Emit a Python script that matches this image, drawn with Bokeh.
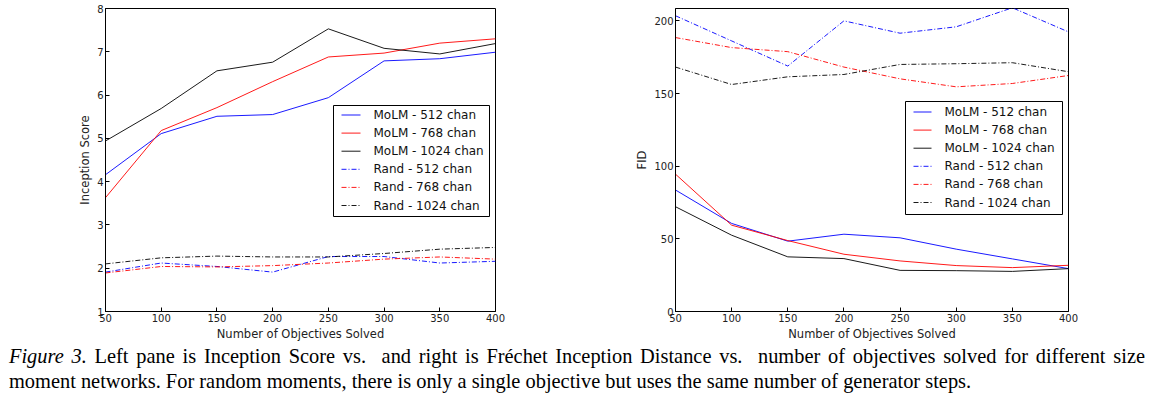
from bokeh.plotting import figure
from bokeh.models import FixedTicker, Range1d, Div, BoxAnnotation, Arrow, Label
from bokeh.layouts import column, row
from bokeh.embed import file_html
from bokeh.resources import INLINE

# ---------------- data ----------------
objectives = [50, 100, 150, 200, 250, 300, 350, 400]

# Inception score (left pane)
is_molm_512 = [4.16, 5.11, 5.51, 5.55, 5.94, 6.79, 6.84, 6.99]
is_molm_768 = [3.63, 5.18, 5.71, 6.31, 6.88, 6.97, 7.20, 7.30]
is_molm_1024 = [4.94, 5.69, 6.56, 6.76, 7.53, 7.08, 6.95, 7.19]
is_rand_512 = [1.91, 2.12, 2.04, 1.91, 2.27, 2.27, 2.12, 2.16]
is_rand_768 = [1.89, 2.04, 2.03, 2.06, 2.12, 2.21, 2.26, 2.21]
is_rand_1024 = [2.10, 2.24, 2.28, 2.26, 2.26, 2.34, 2.44, 2.48]

# FID (right pane)
fid_molm_512 = [83.6, 60.6, 48.4, 53.2, 50.7, 42.9, 36.2, 29.5]
fid_molm_768 = [94.5, 59.4, 48.8, 39.4, 34.8, 31.6, 30.2, 31.8]
fid_molm_1024 = [72.1, 52.5, 37.6, 36.4, 28.3, 28.1, 27.6, 29.5]
fid_rand_512 = [203.5, 186.2, 168.9, 200.0, 191.5, 195.9, 209.0, 192.4]
fid_rand_768 = [188.5, 181.6, 178.8, 168.2, 160.1, 154.6, 156.9, 162.4]
fid_rand_1024 = [168.2, 156.2, 161.5, 163.1, 170.0, 170.5, 171.2, 165.0]

labels = ["MoLM - 512 chan", "MoLM - 768 chan", "MoLM - 1024 chan",
          "Rand - 512 chan", "Rand - 768 chan", "Rand - 1024 chan"]
x_ticks = [50, 100, 150, 200, 250, 300, 350, 400]
is_ticks = [1, 2, 3, 4, 5, 6, 7, 8]
fid_ticks = [0, 50, 100, 150, 200]

x_title = "Number of Objectives Solved"

COLORS = ["#0000ff", "#ff0000", "#000000"]
FONT = "DejaVu Sans"
SOLID = "solid"
DASHDOT = "5 2 1 2"


def style_axis(ax):
    ax.major_tick_in = 4
    ax.major_tick_out = 0
    ax.minor_tick_in = 0
    ax.minor_tick_out = 0
    ax.axis_line_color = "black"
    ax.major_tick_line_color = "black"
    ax.major_label_text_font = FONT
    ax.major_label_text_font_size = "10px"
    ax.major_label_text_color = "#222222"
    ax.axis_label_text_font = FONT
    ax.axis_label_text_font_size = "11.5px"
    ax.axis_label_text_font_style = "normal"
    ax.axis_label_text_color = "#222222"
    ax.major_label_standoff = 2
    ax.axis_label_standoff = 2


def add_legend(p, left, bottom, width, height, first, step, g0, g1, tx):
    S = "screen"
    p.add_layout(BoxAnnotation(left=left, right=left + width,
                               bottom=bottom, top=bottom + height,
                               left_units=S, right_units=S,
                               bottom_units=S, top_units=S,
                               fill_color="white", fill_alpha=1,
                               line_color="black", line_alpha=1,
                               line_width=1))
    for i, lab in enumerate(labels):
        y = bottom + height - first - step * i
        col = COLORS[i % 3]
        dash = SOLID if i < 3 else DASHDOT
        p.add_layout(Arrow(x_start=left + g0, y_start=y,
                           x_end=left + g1, y_end=y,
                           start_units=S, end_units=S,
                           start=None, end=None,
                           line_color=col, line_width=1, line_dash=dash,
                           line_alpha=0.9))
        p.add_layout(Label(x=left + tx, y=y, x_units=S, y_units=S,
                           text=lab, text_baseline="middle",
                           text_align="left", text_font=FONT,
                           text_font_size="12px", text_color="#111111"))


def make_fig(series, yr, yticks, ylabel, fw, fh, bl, br, bt):
    p = figure(title=None, frame_width=fw, frame_height=fh,
               x_range=Range1d(50, 400), y_range=Range1d(*yr),
               output_backend="svg", toolbar_location=None,
               min_border_left=bl, min_border_right=br,
               min_border_top=bt, min_border_bottom=33,
               background_fill_color="white", border_fill_color="white")
    p.grid.visible = False
    p.outline_line_color = "black"
    p.outline_line_alpha = 1
    p.outline_line_width = 1
    p.xaxis.ticker = FixedTicker(ticks=x_ticks)
    p.yaxis.ticker = FixedTicker(ticks=yticks)
    p.xaxis.axis_label = x_title
    p.yaxis.axis_label = ylabel
    for ax in p.xaxis + p.yaxis:
        style_axis(ax)

    for i, ys in enumerate(series):
        col = COLORS[i % 3]
        dash = SOLID if i < 3 else DASHDOT
        p.line(objectives, ys, line_color=col, line_width=1,
               line_dash=dash, line_alpha=0.9)
    return p


p1 = make_fig([is_molm_512, is_molm_768, is_molm_1024,
               is_rand_512, is_rand_768, is_rand_1024],
              (1, 8), is_ticks, "Inception Score",
              390, 303, 105, 116, 8)
add_legend(p1, 228, 95, 156, 111, 9.5, 18.1, 8, 27, 40)

p2 = make_fig([fid_molm_512, fid_molm_768, fid_molm_1024,
               fid_rand_512, fid_rand_768, fid_rand_1024],
              (0, 208.5), fid_ticks, "FID",
              393, 303, 64, 10, 8)
add_legend(p2, 230, 97, 157, 113, 10.5, 18.1, 8, 26, 39)

caption_html = (
    '<div style="font-family:\'Liberation Serif\',serif;font-size:20.4px;'
    'line-height:25px;color:#000;width:1136px;margin-left:4px;'
    'position:relative;top:-5px;">'
    '<div style="white-space:nowrap;text-align:justify;'
    'text-align-last:justify;">'
    '<i>Figure 3.</i> Left pane is Inception Score vs.&nbsp; and right is '
    'Fr&eacute;chet Inception Distance vs.&nbsp; number of objectives solved '
    'for different size</div>'
    '<div style="white-space:nowrap;">moment networks. For random moments, '
    'there is only a single objective but uses the same number of generator '
    'steps.</div></div>'
)
cap = Div(text=caption_html, width=1140, height=44)

layout = column(row(p1, p2), cap)
open("out.html", "w").write(file_html(layout, INLINE))
